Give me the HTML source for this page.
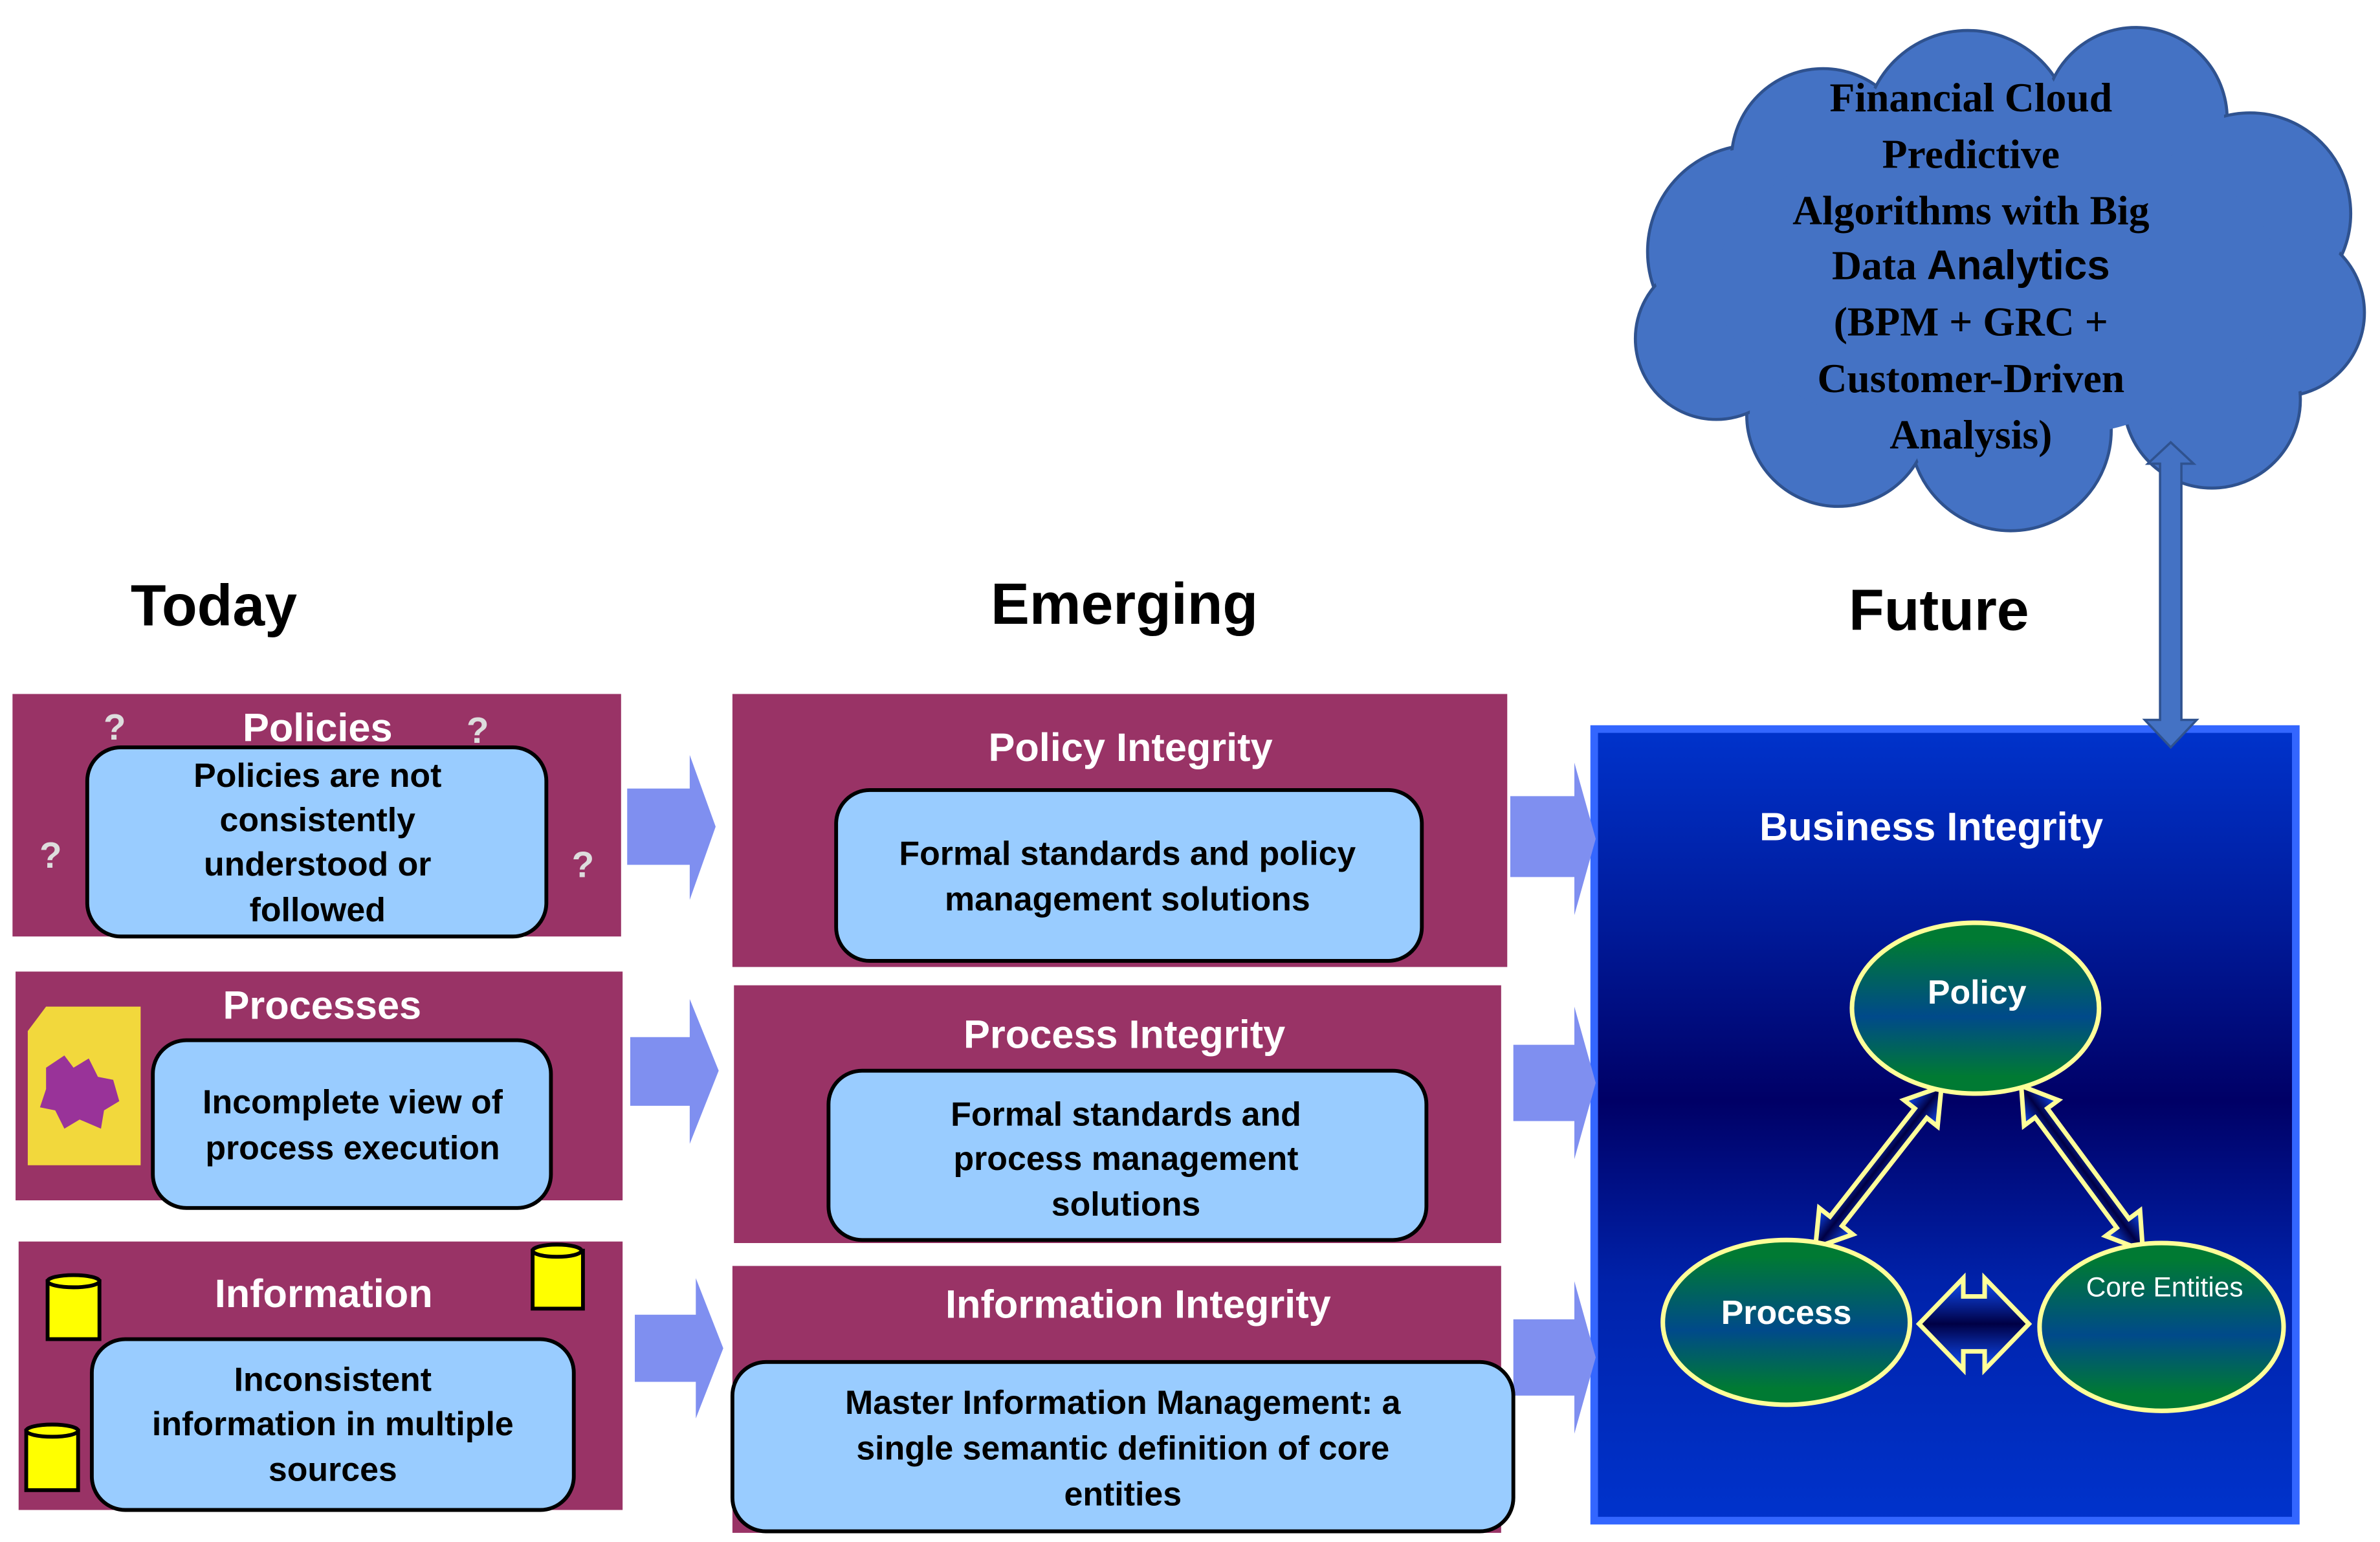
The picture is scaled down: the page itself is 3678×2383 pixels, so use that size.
<!DOCTYPE html>
<html><head><meta charset="utf-8"><style>
html,body{margin:0;padding:0;background:#fff;}
svg{display:block;}
text{font-family:"Liberation Sans",Arial,sans-serif;font-weight:bold;}
.c{text-anchor:middle;}
</style></head><body>
<svg width="3678" height="2383" viewBox="0 0 1560 1011" xmlns="http://www.w3.org/2000/svg">
<defs>
<linearGradient id="fb" x1="0" y1="0" x2="0" y2="1">
<stop offset="0" stop-color="#0033CC"/><stop offset="0.25" stop-color="#001a99"/><stop offset="0.47" stop-color="#000066"/><stop offset="0.7" stop-color="#0022aa"/><stop offset="1" stop-color="#0033CC"/>
</linearGradient>
<linearGradient id="el" x1="0" y1="0" x2="0" y2="1">
<stop offset="0.1" stop-color="#007a33"/><stop offset="0.55" stop-color="#004a8a"/><stop offset="0.9" stop-color="#007a33"/>
</linearGradient>
<linearGradient id="dm" x1="0" y1="0" x2="0" y2="1">
<stop offset="0" stop-color="#1050ff"/><stop offset="0.5" stop-color="#000044"/><stop offset="1" stop-color="#1050ff"/>
</linearGradient>
</defs>

<!-- Cloud -->
<g fill="#4472C4" stroke="#2F528F" stroke-width="2">
<circle cx="1150" cy="165" r="70"/><circle cx="1195" cy="105" r="60"/><circle cx="1290" cy="88" r="68"/>
<circle cx="1400" cy="78" r="60"/><circle cx="1475" cy="140" r="66"/><circle cx="1495" cy="205" r="55"/>
<circle cx="1450" cy="262" r="58"/><circle cx="1318" cy="282" r="66"/><circle cx="1205" cy="272" r="60"/>
<circle cx="1125" cy="222" r="53"/>
</g>
<g fill="#4472C4">
<circle cx="1150" cy="165" r="68"/><circle cx="1195" cy="105" r="58"/><circle cx="1290" cy="88" r="66"/>
<circle cx="1400" cy="78" r="58"/><circle cx="1475" cy="140" r="64"/><circle cx="1495" cy="205" r="53"/>
<circle cx="1450" cy="262" r="56"/><circle cx="1318" cy="282" r="64"/><circle cx="1205" cy="272" r="58"/>
<circle cx="1125" cy="222" r="51"/><ellipse cx="1310" cy="185" rx="185" ry="105"/>
</g>
<g font-size="27" fill="#000" class="c">
<text x="1292" y="73" style="font-family:'Liberation Serif',serif">Financial Cloud</text>
<text x="1292" y="110" style="font-family:'Liberation Serif',serif">Predictive</text>
<text x="1292" y="147" style="font-family:'Liberation Serif',serif">Algorithms  with  Big</text>
<text x="1292" y="183" style="font-family:'Liberation Serif',serif">Data <tspan style="font-family:'Liberation Sans',sans-serif">Analytics</tspan></text>
<text x="1292" y="220" style="font-family:'Liberation Serif',serif">(BPM + GRC +</text>
<text x="1292" y="257" style="font-family:'Liberation Serif',serif">Customer-Driven</text>
<text x="1292" y="294" style="font-family:'Liberation Serif',serif">Analysis)</text>
</g>

<!-- Headings -->
<text x="140" y="410" class="c" font-size="38">Today</text>
<text x="737" y="409" class="c" font-size="38">Emerging</text>
<text x="1271" y="413" class="c" font-size="38">Future</text>

<!-- Future box -->
<rect x="1045" y="478" width="460" height="519" fill="url(#fb)" stroke="#3366FF" stroke-width="5"/>
<text x="1266" y="551" class="c" font-size="26" fill="#fff">Business Integrity</text>

<!-- vertical double arrow -->
<polygon points="1423,290 1438,304 1430,304 1430,472 1440,472 1423,490 1406,472 1416,472 1416,304 1408,304" fill="#4472C4" stroke="#2F528F" stroke-width="1.5"/>

<!-- triangle arrows -->
<g fill="url(#dm)" stroke="#FFFF99" stroke-width="3" stroke-linejoin="miter">
<polygon transform="translate(1190,818) rotate(-51.9)" points="0,0 22,-14 22,-5 112,-5 112,-14 134,0 112,14 112,5 22,5 22,14"/>
<polygon transform="translate(1325,712) rotate(53.5)" points="0,0 22,-14 22,-5 112,-5 112,-14 134,0 112,14 112,5 22,5 22,14"/>
<polygon points="1258,868 1287,838 1287,850 1301,850 1301,838 1330,868 1301,898 1301,886 1287,886 1287,898"/>
</g>

<!-- ellipses -->
<g stroke="#FFFF99" stroke-width="3" fill="url(#el)">
<ellipse cx="1295" cy="661" rx="81" ry="56"/>
<ellipse cx="1171" cy="867" rx="81" ry="54"/>
<ellipse cx="1417" cy="870" rx="80" ry="55"/>
</g>
<text x="1296" y="658" class="c" font-size="22" fill="#fff">Policy</text>
<text x="1171" y="868" class="c" font-size="22" fill="#fff">Process</text>
<text x="1419" y="850" class="c" font-size="18" fill="#fff" style="font-weight:normal">Core Entities</text>

<!-- Today boxes -->
<rect x="8" y="455" width="399" height="159" fill="#993366"/>
<rect x="57" y="490" width="301" height="124" rx="22" fill="#99CCFF" stroke="#000" stroke-width="2.5"/>
<text x="208" y="486" class="c" font-size="26" fill="#fff">Policies</text>
<g fill="#ddd" font-size="24"><text x="75" y="485" class="c">?</text><text x="313" y="487" class="c">?</text><text x="33" y="569" class="c">?</text><text x="382" y="575" class="c">?</text></g>
<g font-size="22" class="c"><text x="208" y="516">Policies are not</text><text x="208" y="545">consistently</text><text x="208" y="574">understood or</text><text x="208" y="604">followed</text></g>

<rect x="10" y="637" width="398" height="150" fill="#993366"/>
<polygon points="18,676 30,660 92,660 92,764 18,764" fill="#f2d83c"/>
<path d="M30,700 l12,-8 l6,8 l10,-6 l6,12 l10,2 l4,14 l-10,6 l-2,12 l-14,-6 l-10,6 l-6,-12 l-10,-2 l4,-12 z" fill="#993399"/>
<text x="211" y="668" class="c" font-size="26" fill="#fff">Processes</text>
<rect x="100" y="682" width="261" height="110" rx="22" fill="#99CCFF" stroke="#000" stroke-width="2.5"/>
<g font-size="22" class="c"><text x="231" y="730">Incomplete  view of</text><text x="231" y="760">process  execution</text></g>

<rect x="12" y="814" width="396" height="176" fill="#993366"/>
<text x="212" y="857" class="c" font-size="26" fill="#fff">Information</text>
<rect x="60" y="878" width="316" height="112" rx="22" fill="#99CCFF" stroke="#000" stroke-width="2.5"/>
<g font-size="22" class="c"><text x="218" y="912">Inconsistent</text><text x="218" y="941">information in multiple</text><text x="218" y="971">sources</text></g>
<g fill="#FFFF00" stroke="#000" stroke-width="2.5">
<rect x="31" y="840" width="34" height="38"/><ellipse cx="48" cy="840" rx="17" ry="4"/>
<rect x="349" y="820" width="33" height="38"/><ellipse cx="365" cy="820" rx="16" ry="4"/>
<rect x="17" y="938" width="34" height="39"/><ellipse cx="34" cy="938" rx="17" ry="4"/>
</g>

<!-- Right-pointing arrows -->
<g fill="#7F8FF0">
<polygon points="411,517 452,517 452,495 469,542 452,590 452,567 411,567"/>
<polygon points="413,680 452,680 452,655 471,702 452,750 452,725 413,725"/>
<polygon points="416,862 456,862 456,838 474,884 456,930 456,906 416,906"/>
<polygon points="990,522 1032,522 1032,500 1046,550 1032,600 1032,575 990,575"/>
<polygon points="992,685 1032,685 1032,660 1046,710 1032,760 1032,735 992,735"/>
<polygon points="992,865 1032,865 1032,840 1046,890 1032,940 1032,915 992,915"/>
</g>

<!-- Emerging boxes -->
<rect x="480" y="455" width="508" height="179" fill="#993366"/>
<text x="741" y="499" class="c" font-size="26" fill="#fff">Policy Integrity</text>
<rect x="548" y="518" width="384" height="112" rx="22" fill="#99CCFF" stroke="#000" stroke-width="2.5"/>
<g font-size="22" class="c"><text x="739" y="567">Formal standards and policy</text><text x="739" y="597">management  solutions</text></g>

<rect x="481" y="646" width="503" height="169" fill="#993366"/>
<text x="737" y="687" class="c" font-size="26" fill="#fff">Process Integrity</text>
<rect x="543" y="702" width="392" height="111" rx="22" fill="#99CCFF" stroke="#000" stroke-width="2.5"/>
<g font-size="22" class="c"><text x="738" y="738">Formal standards and</text><text x="738" y="767">process management</text><text x="738" y="797">solutions</text></g>

<rect x="480" y="830" width="504" height="175" fill="#993366"/>
<text x="746" y="864" class="c" font-size="26" fill="#fff">Information Integrity</text>
<rect x="480" y="893" width="512" height="111" rx="22" fill="#99CCFF" stroke="#000" stroke-width="2.5"/>
<g font-size="22" class="c"><text x="736" y="927">Master Information  Management:  a</text><text x="736" y="957">single  semantic  definition  of core</text><text x="736" y="987">entities</text></g>
</svg>
</body></html>
